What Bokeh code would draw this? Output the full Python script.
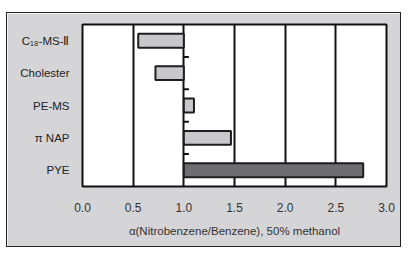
from bokeh.plotting import figure
from bokeh.models import FixedTicker, ColumnDataSource, Range1d
from bokeh.embed import file_html
from bokeh.resources import INLINE

categories = ["C₁₈-MS-Ⅱ", "Cholester", "PE-MS", "π NAP", "PYE"]
values = [0.55, 0.72, 1.10, 1.465, 2.77]
baseline = 1.0
x_ticks = [0.0, 0.5, 1.0, 1.5, 2.0, 2.5, 3.0]
x_label = "α(Nitrobenzene/Benzene), 50% methanol"

n = len(categories)
ypos = [n - i - 0.5 for i in range(n)]
fills = ["#c8c8cc"] * (n - 1) + ["#6e6d71"]

src = ColumnDataSource(dict(y=ypos, right=values, left=[baseline] * n, fill=fills))

p = figure(width=395, height=235, output_backend="svg", toolbar_location=None,
           x_range=Range1d(0, 3), y_range=Range1d(0, n),
           min_border_left=75, min_border_right=16, min_border_top=11, min_border_bottom=62)
p.styles = {"margin-left": "6px", "margin-top": "12px", "border": "1px solid #222"}
p.border_fill_color = "#d5d4d6"
p.background_fill_color = "white"
p.outline_line_color = "#111111"
p.outline_line_width = 2

p.hbar(y="y", left="left", right="right", height=0.43, fill_color="fill",
       line_color="#1e1e1e", line_width=2, source=src)

# small category-boundary ticks on the baseline
bounds = [float(i) for i in range(1, n)]
p.segment(x0=[baseline] * len(bounds), x1=[baseline + 0.05] * len(bounds),
          y0=bounds, y1=bounds, line_color="#111111", line_width=2)

p.xaxis.ticker = FixedTicker(ticks=x_ticks)
p.xaxis.major_label_overrides = {t: f"{t:.1f}" for t in x_ticks}
p.xaxis.axis_line_color = None
p.xaxis.major_tick_line_color = None
p.xaxis.minor_tick_line_color = None
p.xaxis.major_label_standoff = 10
p.xaxis.major_label_text_font = "Liberation Sans"
p.xaxis.major_label_text_font_size = "12px"
p.xaxis.major_label_text_color = "#333333"
p.xaxis.axis_label = x_label
p.xaxis.axis_label_text_font = "Liberation Sans"
p.xaxis.axis_label_text_font_size = "11.5px"
p.xaxis.axis_label_text_font_style = "normal"
p.xaxis.axis_label_text_color = "#333333"
p.xaxis.axis_label_standoff = 10

p.yaxis.ticker = FixedTicker(ticks=ypos)
p.yaxis.major_label_overrides = {y: c for y, c in zip(ypos, categories)}
p.yaxis.axis_line_color = None
p.yaxis.major_tick_line_color = None
p.yaxis.minor_tick_line_color = None
p.yaxis.major_label_standoff = 7
p.yaxis.major_label_text_font = "Liberation Sans"
p.yaxis.major_label_text_font_size = "11.5px"
p.yaxis.major_label_text_color = "#222222"

p.xgrid.ticker = FixedTicker(ticks=x_ticks)
p.xgrid.grid_line_color = "#111111"
p.xgrid.grid_line_width = 2
p.ygrid.grid_line_color = None

open("out.html", "w").write(file_html(p, INLINE))
